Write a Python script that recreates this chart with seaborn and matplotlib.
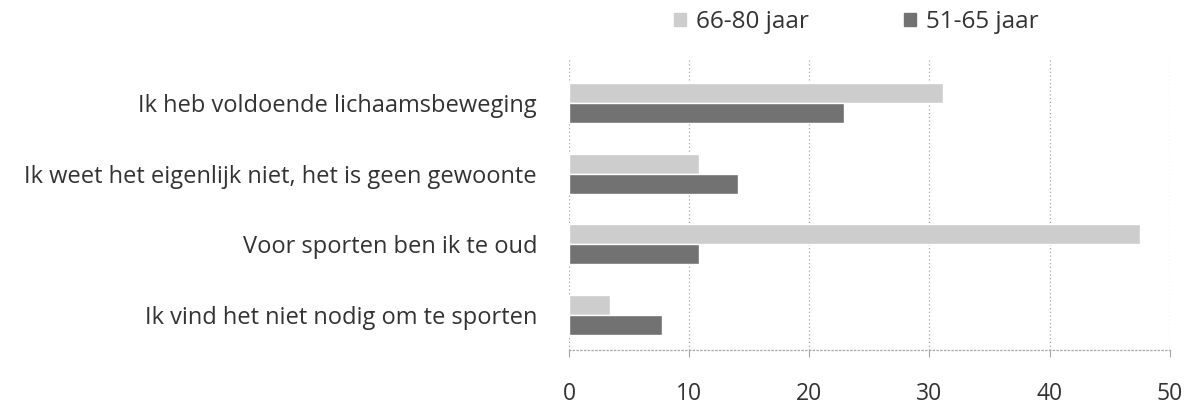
import pandas as pd
import matplotlib.pyplot as plt
import seaborn as sns

# data
categories = [
    "Ik heb voldoende lichaamsbeweging",
    "Ik weet het eigenlijk niet, het is geen gewoonte",
    "Voor sporten ben ik te oud",
    "Ik vind het niet nodig om te sporten",
]
groups = ["66-80 jaar", "51-65 jaar"]
values_66_80 = [31.1, 10.8, 47.5, 3.4]
values_51_65 = [22.9, 14.1, 10.8, 7.7]
x_ticks = [0, 10, 20, 30, 40, 50]

df = pd.DataFrame({
    "categorie": categories * 2,
    "groep": [groups[0]] * len(categories) + [groups[1]] * len(categories),
    "waarde": values_66_80 + values_51_65,
})

sns.set_style("white")
plt.rcParams["font.family"] = ["Open Sans", "DejaVu Sans"]

fig = plt.figure(figsize=(11.96, 4.09), dpi=100)
ax = fig.add_axes([0.4758, 0.1443, 0.978 - 0.4758, 0.858 - 0.1443])

palette = {groups[0]: "#cdcdcd", groups[1]: "#727272"}
sns.barplot(data=df, y="categorie", x="waarde", hue="groep", hue_order=groups,
            order=categories, palette=palette, width=0.566, orient="h",
            saturation=1, ax=ax, legend=False)

ax.set_xlim(0, 50)
ax.set_ylim(3.5, -0.64)
ax.set_xticks(x_ticks)
ax.set_xlabel("")
ax.set_ylabel("")

ax.grid(axis="x", color="#a8a8a8", linestyle=(0, (1, 2)), linewidth=0.9)
ax.set_axisbelow(True)
for side in ["top", "right", "left"]:
    ax.spines[side].set_visible(False)
ax.spines["bottom"].set_color("#a8a8a8")
ax.spines["bottom"].set_linestyle((0, (1, 2)))
ax.spines["bottom"].set_linewidth(0.9)

ax.tick_params(axis="x", length=5, color="#a8a8a8", pad=18, labelsize=16.5,
               labelcolor="#333333", bottom=True)
ax.tick_params(axis="y", length=0, pad=23, labelsize=17, labelcolor="#333333")

# legend
handles = [plt.Rectangle((0, 0), 1, 1, color=palette[g]) for g in groups]
fig.legend(handles, groups, loc="center", bbox_to_anchor=(0.716, 0.946), ncol=2,
           frameon=False, fontsize=17.5, handlelength=0.5, handleheight=0.5,
           handletextpad=0.4, columnspacing=3.9, labelcolor="#333333")

plt.savefig("out.png", dpi=100)
